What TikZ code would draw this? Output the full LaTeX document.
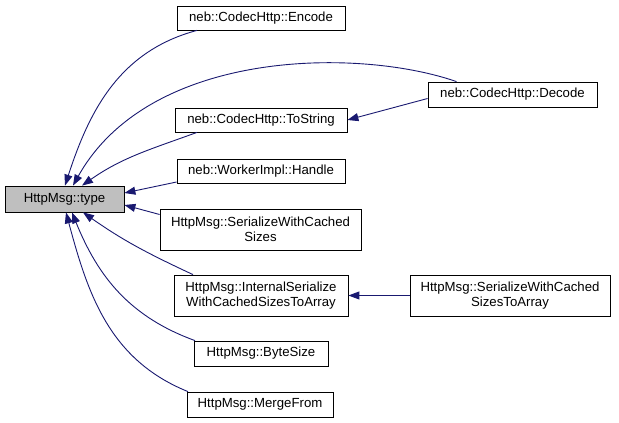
\documentclass[tikz,border=0pt]{standalone}
\usepackage{fontspec}
\setmainfont{Liberation Sans}
\usetikzlibrary{arrows.meta}
\definecolor{edgeblue}{HTML}{191970}
\definecolor{selgray}{HTML}{BFBFBF}

\begin{document}
\begin{tikzpicture}[
    x=1pt, y=1pt,
    >={Triangle[length=11pt,width=8pt]},
    fn/.style={draw=black, line width=0.8pt, fill=white, inner sep=0pt,
        minimum height=24pt, align=center,
        font=\fontsize{13.2}{15}\selectfont},
    call/.style={->, edgeblue, line width=0.9pt}
]

    \useasboundingbox (0,0) rectangle (619,423);

    % Funcio
    \node[fn, fill=selgray, minimum width=119pt, minimum height=26pt]
        (type) at (64.5,224) {HttpMsg::type};

    % Cridadors directes
    \node[fn, minimum width=168pt] (enc) at (261,405) {neb::CodecHttp::Encode};
    \node[fn, minimum width=172pt] (tostr) at (261,303) {neb::CodecHttp::ToString};
    \node[fn, minimum width=168pt] (handle) at (261,252) {neb::WorkerImpl::Handle};
    \node[fn, minimum width=201pt, minimum height=41pt]
        (swc) at (260.5,193.5) {HttpMsg::SerializeWithCached\\Sizes};
    \node[fn, minimum width=174pt, minimum height=41pt]
        (internal) at (261,127.5) {HttpMsg::InternalSerialize\\WithCachedSizesToArray};
    \node[fn, minimum width=134pt, minimum height=25pt]
        (bytesize) at (261,69.5) {HttpMsg::ByteSize};
    \node[fn, minimum width=146pt, minimum height=25pt]
        (merge) at (260,18.5) {HttpMsg::MergeFrom};

    % Segon nivell
    \node[fn, minimum width=169pt, minimum height=25pt]
        (dec) at (512.5,328.5) {neb::CodecHttp::Decode};
    \node[fn, minimum width=200pt, minimum height=41pt]
        (swcta) at (510,127.5) {HttpMsg::SerializeWithCached\\SizesToArray};

    % Arestes cap a type
    \draw[call] ([xshift=-64pt]enc.south) to[out=195, in=72]
        ([xshift=0.5pt]type.north);
    \draw[call] ([xshift=-56pt]dec.north) .. controls (360,375) and (150,375) ..
        ([xshift=8.5pt]type.north);
    \draw[call] ([xshift=-64pt]tostr.south) to[out=200, in=35]
        ([xshift=17.5pt]type.north);
    \draw[call] ([yshift=-11pt]handle.west) -- ([yshift=6pt]type.east);
    \draw[call] ([yshift=15pt]swc.west) -- ([yshift=-6pt]type.east);
    \draw[call] ([xshift=-68pt]internal.north) to[out=155, in=-35]
        ([xshift=18.5pt]type.south);
    \draw[call] ([xshift=-66pt]bytesize.north) to[out=160, in=-68]
        ([xshift=7.5pt]type.south);
    \draw[call] ([xshift=-72pt]merge.north) to[out=158, in=-75]
        ([xshift=1.5pt]type.south);

    % Arestes de segon nivell
    \draw[call] ([yshift=-4pt]dec.west) -- (tostr.east);
    \draw[call] (swcta.west) -- (internal.east);

\end{tikzpicture}
\end{document}
